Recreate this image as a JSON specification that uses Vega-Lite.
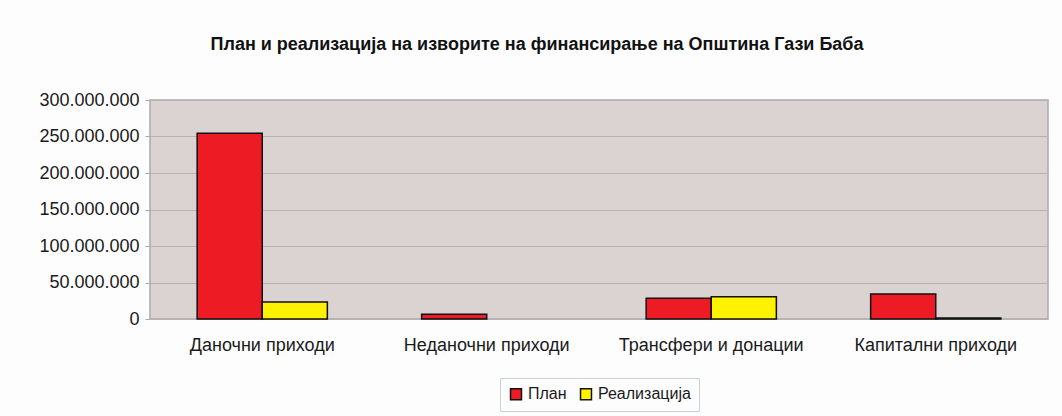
{
  "$schema": "https://vega.github.io/schema/vega-lite/v6.json",
  "width": 898,
  "height": 219,
  "autosize": {"type": "none"},
  "padding": {"left": 150, "top": 100, "right": 14, "bottom": 97},
  "background": "#FDFDFE",
  "title": {
    "text": "План и реализација на изворите на финансирање на Општина Гази Баба",
    "font": "Liberation Sans",
    "fontSize": 18,
    "fontWeight": "bold",
    "color": "#111111",
    "anchor": "middle",
    "dx": -62,
    "offset": 37
  },
  "data": {
    "values": [
      {"category": "Даночни приходи", "series": "План", "value": 254500000},
      {"category": "Даночни приходи", "series": "Реализација", "value": 23300000},
      {"category": "Неданочни приходи", "series": "План", "value": 6400000},
      {"category": "Трансфери и донации", "series": "План", "value": 28400000},
      {"category": "Трансфери и донации", "series": "Реализација", "value": 30500000},
      {"category": "Капитални приходи", "series": "План", "value": 34200000},
      {"category": "Капитални приходи", "series": "Реализација", "value": 1500000}
    ]
  },
  "mark": {"type": "bar", "stroke": "#111111", "strokeWidth": 1.5},
  "encoding": {
    "x": {
      "field": "category",
      "type": "nominal",
      "sort": ["Даночни приходи", "Неданочни приходи", "Трансфери и донации", "Капитални приходи"],
      "scale": {"paddingInner": 0.42, "paddingOuter": 0.21},
      "axis": {
        "title": null,
        "labelAngle": 0,
        "labelFont": "Liberation Sans",
        "labelFontSize": 18,
        "labelColor": "#1a1a1a",
        "labelPadding": 17,
        "labelLimit": 400,
        "ticks": false,
        "domain": false
      }
    },
    "xOffset": {
      "field": "series",
      "type": "nominal",
      "sort": ["План", "Реализација"],
      "scale": {"paddingInner": 0, "paddingOuter": 0}
    },
    "y": {
      "field": "value",
      "type": "quantitative",
      "scale": {"domain": [0, 300000000], "nice": false},
      "axis": {
        "title": null,
        "values": [0, 50000000, 100000000, 150000000, 200000000, 250000000, 300000000],
        "format": ",d",
        "labelFont": "Liberation Sans",
        "labelFontSize": 18,
        "labelColor": "#1a1a1a",
        "labelPadding": 6,
        "tickSize": 5,
        "tickColor": "#A8A8B0",
        "domain": false,
        "grid": true,
        "gridColor": "#B8B2B2",
        "gridWidth": 1.2
      }
    },
    "color": {
      "field": "series",
      "type": "nominal",
      "sort": ["План", "Реализација"],
      "scale": {"domain": ["План", "Реализација"], "range": ["#ED1C24", "#FFF200"]},
      "legend": {
        "title": null,
        "orient": "bottom",
        "direction": "horizontal",
        "symbolType": "square",
        "symbolSize": 120,
        "symbolStrokeColor": "#111111",
        "symbolStrokeWidth": 1.5,
        "labelFont": "Liberation Sans",
        "labelFontSize": 16,
        "labelColor": "#1a1a1a",
        "columnPadding": 10,
        "strokeColor": "#C8D0D8",
        "padding": 8,
        "offset": 24
      }
    }
  },
  "config": {
    "locale": {
      "number": {"decimal": ",", "thousands": ".", "grouping": [3], "currency": ["", ""]}
    },
    "legend": {"layout": {"bottom": {"anchor": "middle"}}},
    "view": {"fill": "#DAD3D1", "stroke": "#A9AAB2", "strokeWidth": 1.5}
  }
}
